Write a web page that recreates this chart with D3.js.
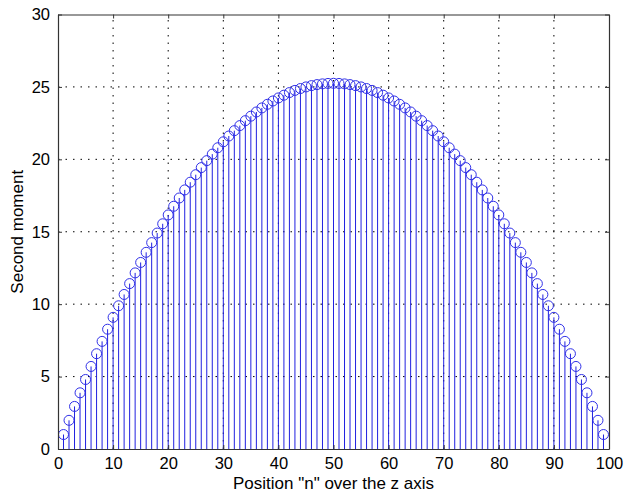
<!DOCTYPE html>
<html>
<head>
<meta charset="utf-8">
<script src="https://cdn.jsdelivr.net/npm/d3@7"></script>
<style>
  body { margin: 0; background: #fff; }
  text { font-family: "Liberation Sans", Arial, sans-serif; fill: #000; }
</style>
</head>
<body>
<div id="chart"></div>
<script>
const width = 625;
const height = 495;
const margin = { top: 14.5, right: 16, bottom: 46, left: 58 };

// position n along the z axis
const positions = d3.range(1, 100);

// second moment at each position
const moments = [
  1.00, 1.98, 2.94, 3.88, 4.80, 5.70, 6.58, 7.43, 8.27, 9.09,
  9.89, 10.67, 11.42, 12.16, 12.88, 13.58, 14.25, 14.91, 15.55, 16.16,
  16.76, 17.33, 17.89, 18.42, 18.94, 19.43, 19.91, 20.36, 20.80, 21.21,
  21.61, 21.98, 22.33, 22.67, 22.98, 23.27, 23.55, 23.80, 24.03, 24.24,
  24.43, 24.61, 24.76, 24.89, 25.00, 25.09, 25.16, 25.21, 25.24, 25.25,
  25.24, 25.21, 25.16, 25.09, 25.00, 24.89, 24.76, 24.61, 24.43, 24.24,
  24.03, 23.80, 23.55, 23.27, 22.98, 22.67, 22.33, 21.98, 21.61, 21.21,
  20.80, 20.36, 19.91, 19.43, 18.94, 18.42, 17.89, 17.33, 16.76, 16.16,
  15.55, 14.91, 14.25, 13.58, 12.88, 12.16, 11.42, 10.67, 9.89, 9.09,
  8.27, 7.43, 6.58, 5.70, 4.80, 3.88, 2.94, 1.98, 1.00
];

const xTicks = [0, 10, 20, 30, 40, 50, 60, 70, 80, 90, 100];
const yTicks = [0, 5, 10, 15, 20, 25, 30];

const data = positions.map((n, i) => ({ n: n, m: moments[i] }));

const svg = d3.select('#chart').append('svg')
  .attr('width', width)
  .attr('height', height);

const x = d3.scaleLinear()
  .domain([0, 100])
  .range([margin.left, width - margin.right]);

const y = d3.scaleLinear()
  .domain([0, 30])
  .range([height - margin.bottom, margin.top]);

// dotted grid
svg.append('g')
  .selectAll('line')
  .data(xTicks.slice(1, -1))
  .enter().append('line')
    .attr('x1', d => x(d)).attr('x2', d => x(d))
    .attr('y1', y(0)).attr('y2', y(30))
    .attr('stroke', '#000')
    .attr('stroke-width', 1)
    .attr('stroke-dasharray', '1.5,6');

svg.append('g')
  .selectAll('line')
  .data(yTicks.slice(1, -1))
  .enter().append('line')
    .attr('x1', x(0)).attr('x2', x(100))
    .attr('y1', d => y(d)).attr('y2', d => y(d))
    .attr('stroke', '#000')
    .attr('stroke-width', 1)
    .attr('stroke-dasharray', '1.5,6');

// stems
const stems = svg.append('g');

stems.selectAll('line')
  .data(data)
  .enter().append('line')
    .attr('x1', d => x(d.n)).attr('x2', d => x(d.n))
    .attr('y1', y(0)).attr('y2', d => y(d.m))
    .attr('stroke', '#2020e0')
    .attr('stroke-width', 1);

stems.selectAll('circle')
  .data(data)
  .enter().append('circle')
    .attr('cx', d => x(d.n))
    .attr('cy', d => y(d.m))
    .attr('r', 5)
    .attr('fill', 'none')
    .attr('stroke', '#3030e8')
    .attr('stroke-width', 1);

// axes, box style with inward ticks
const axisColor = '#333';

const axisBottomG = svg.append('g')
  .attr('transform', `translate(0,${y(0)})`)
  .call(d3.axisBottom(x).tickValues(xTicks).tickSizeInner(-4).tickSizeOuter(0).tickPadding(8));

const axisLeftG = svg.append('g')
  .attr('transform', `translate(${x(0)},0)`)
  .call(d3.axisLeft(y).tickValues(yTicks).tickSizeInner(-4).tickSizeOuter(0).tickPadding(8));

const axisTopG = svg.append('g')
  .attr('transform', `translate(0,${y(30)})`)
  .call(d3.axisTop(x).tickValues(xTicks).tickSizeInner(-4).tickSizeOuter(0).tickFormat(''));

const axisRightG = svg.append('g')
  .attr('transform', `translate(${x(100)},0)`)
  .call(d3.axisRight(y).tickValues(yTicks).tickSizeInner(-4).tickSizeOuter(0).tickFormat(''));

[axisBottomG, axisLeftG, axisTopG, axisRightG].forEach(g => {
  g.select('.domain').attr('stroke', axisColor).attr('stroke-width', 1.2);
  g.selectAll('.tick line').attr('stroke', axisColor);
  g.selectAll('.tick text')
    .attr('font-size', 16.5)
    .attr('font-family', '"Liberation Sans", Arial, sans-serif')
    .attr('fill', '#000');
});

// axis labels
svg.append('text')
  .attr('x', (x(0) + x(100)) / 2)
  .attr('y', 489)
  .attr('text-anchor', 'middle')
  .attr('font-size', 17)
  .text('Position "n" over the z axis');

svg.append('text')
  .attr('transform', `translate(23,${(y(0) + y(30)) / 2}) rotate(-90)`)
  .attr('text-anchor', 'middle')
  .attr('font-size', 17)
  .text('Second moment');
</script>
</body>
</html>
